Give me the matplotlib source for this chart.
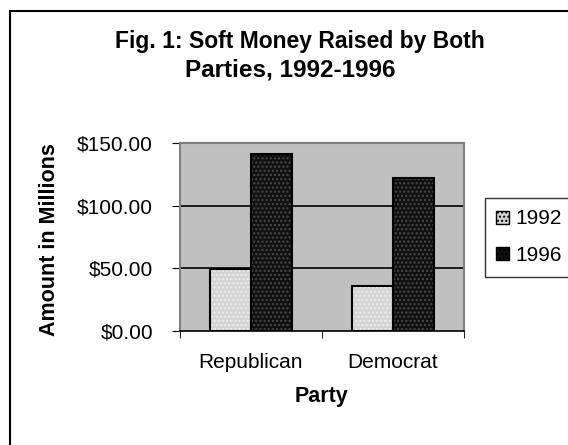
import matplotlib.pyplot as plt
from matplotlib.patches import Rectangle, Patch
import numpy as np

parties = ["Republican", "Democrat"]
years = ["1992", "1996"]
soft_1992 = [49.8, 36.3]
soft_1996 = [141.2, 122.3]
y_ticks = [0, 50, 100, 150]

plt.rcParams["font.family"] = ["Liberation Sans", "DejaVu Sans"]
plt.rcParams["hatch.linewidth"] = 1.0

W, H = 568, 445
fig = plt.figure(figsize=(W / 100, H / 100), dpi=100)

# outer chart border (only top and left are visible in the crop)
fig.patches.append(Rectangle((10 / W, -0.1), 1.2, 1.1 - 11 / H, transform=fig.transFigure,
                             fill=False, edgecolor="black", lw=1.5, zorder=0))

ax = fig.add_axes([180 / W, (H - 331) / H, 284 / W, 188 / H])
ax.set_facecolor("#c0c0c0")

x = np.arange(len(parties))
bw = 0.292
styles = [("#d4d4d4", "#f0f0f0"), ("#111111", "#4a4a4a")]
handles = []
for i, (vals, yr) in enumerate(zip([soft_1992, soft_1996], years)):
    fc, hc = styles[i]
    pos = x - bw / 2 + i * bw
    ax.bar(pos, vals, bw, color=fc, hatch="....", edgecolor=hc, lw=0, zorder=2)
    ax.bar(pos, vals, bw, fill=False, edgecolor="black", lw=1.5, zorder=3)
    handles.append(Patch(facecolor=fc, hatch="....", edgecolor="black", lw=1.0, label=yr))

ax.set_xlim(-0.5, 1.5)
ax.set_ylim(0, 150)
ax.set_yticks(y_ticks)
ax.set_yticklabels([f"${v:.2f}" for v in y_ticks], fontsize=15)
ax.set_xticks([0, 1])
ax.set_xticklabels(parties, fontsize=15)
ax.set_xticks([-0.5, 0.5, 1.5], minor=True)
ax.tick_params(axis="x", which="major", length=0, pad=15.5)
ax.tick_params(axis="x", which="minor", length=5, direction="out", color="black")
ax.tick_params(axis="y", length=6, direction="out", color="black", pad=13.5)
for v in y_ticks[1:-1]:
    ax.axhline(v, color="black", lw=1.2, zorder=1)

for s in ["left", "top", "right"]:
    ax.spines[s].set_color("#808080")
    ax.spines[s].set_linewidth(1.5)
ax.spines["bottom"].set_color("black")
ax.spines["bottom"].set_linewidth(1.2)

fig.text(50 / W, 1 - 240 / H, "Amount in Millions", rotation=90, ha="center", va="center",
         fontsize=15.5, fontweight="bold")
fig.text(322 / W, 1 - 402 / H, "Party", ha="center", va="baseline",
         fontsize=15.5, fontweight="bold")

fig.text(300 / W, 1 - 48 / H, "Fig. 1: Soft Money Raised by Both", ha="center", va="baseline",
         fontsize=16.5, fontweight="bold")
fig.text(290 / W, 1 - 77 / H, "Parties, 1992-1996", ha="center", va="baseline",
         fontsize=17.5, fontweight="bold")

leg = fig.legend(handles=handles, loc="upper left", bbox_to_anchor=(485 / W, 1 - 198 / H),
                 fontsize=15, frameon=True, fancybox=False, edgecolor="black",
                 handlelength=0.6, handleheight=0.6, handletextpad=0.3,
                 labelspacing=0.85, borderpad=0.55, borderaxespad=0)
leg.get_frame().set_linewidth(1.0)

fig.savefig("out.png", dpi=100)
